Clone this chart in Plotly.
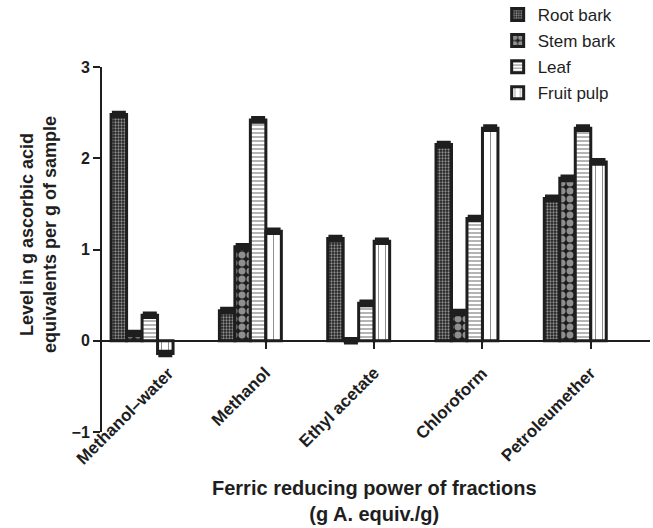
import plotly.graph_objects as go

# Fractions and measured ferric reducing power (g ascorbic acid equiv./g)
fractions = ["Methanol\u2013water", "Methanol", "Ethyl acetate", "Chloroform", "Petroleumether"]
root_bark = [2.48, 0.33, 1.12, 2.15, 1.56]
stem_bark = [0.08, 1.03, 0.00, 0.31, 1.78]
leaf = [0.28, 2.42, 0.41, 1.34, 2.33]
fruit_pulp = [-0.14, 1.20, 1.09, 2.33, 1.96]
sem = [0.02, 0.02, 0.02, 0.02, 0.02]

y_ticks = [-1, 0, 1, 2, 3]
y_tick_text = ["\u22121", "0", "1", "2", "3"]

FONT = "Liberation Sans, Arial, sans-serif"
INK = "#1e1e1e"

positions = list(range(len(fractions)))
BAR_W = 0.143  # width of one bar in category units

# the first label is pushed right so it clears the -1 tick label
label_nudge_px = {0: 12}

series = [
    ("Root bark", root_bark, dict(shape=".", size=3, solidity=0.45, fgcolor="white", bgcolor=INK)),
    ("Stem bark", stem_bark, dict(shape=".", size=8, solidity=0.6, fgcolor="white", bgcolor=INK)),
    ("Leaf", leaf, dict(shape="-", size=4, solidity=0.4, fgcolor="#444", bgcolor="white")),
    ("Fruit pulp", fruit_pulp, dict(shape="|", size=7, solidity=0.15, fgcolor=INK, bgcolor="white")),
]

fig = go.Figure()
for name, vals, pat in series:
    fig.add_trace(go.Bar(
        name=name,
        x=positions,
        y=vals,
        legendgroup=name,
        marker=dict(color="white", pattern=pat, line=dict(color=INK, width=3)),
        error_y=dict(type="data", array=sem, visible=True, color=INK, thickness=4, width=7),
    ))

# Rotated fraction names hanging below the zero line
for i, name in enumerate(fractions):
    fig.add_annotation(text=f"<b>{name}</b>", x=i, y=-0.22, xref="x", yref="y",
                       xanchor="right", yanchor="top", xshift=27 + label_nudge_px.get(i, 0),
                       textangle=-45, showarrow=False,
                       font=dict(family=FONT, size=17, color=INK))

fig.add_annotation(text="<b>Level in g ascorbic acid<br>equivalents per g of sample</b>",
                   xref="paper", yref="paper", x=-0.117, y=0.542, xanchor="center",
                   yanchor="middle", textangle=-90,
                   showarrow=False, font=dict(family=FONT, size=18, color=INK))
fig.add_annotation(text="<b>Ferric reducing power of fractions<br>(g A. equiv./g)</b>",
                   xref="paper", yref="paper", x=0.498, y=-0.118, xanchor="center",
                   yanchor="top", showarrow=False, font=dict(family=FONT, size=20, color=INK))

fig.update_layout(
    width=653, height=528,
    margin=dict(l=102, r=3, t=67, b=96, autoexpand=False),
    paper_bgcolor="white", plot_bgcolor="white",
    font=dict(family=FONT, color=INK),
    barmode="group", bargap=1 - 4 * BAR_W, bargroupgap=0,
    showlegend=True,
    legend=dict(x=0.722, y=1.192, xanchor="left", yanchor="top",
                font=dict(family=FONT, size=17, color=INK),
                tracegroupgap=1, bgcolor="rgba(0,0,0,0)"),
    # category axis sits on the zero line (a quarter of the way up the -1..3 range)
    xaxis=dict(anchor="free", position=0.25, range=[-0.37, 4.69],
               tickvals=[p + BAR_W for p in positions], showticklabels=False,
               showline=True, linecolor=INK, linewidth=2,
               ticks="outside", ticklen=7, tickwidth=2, tickcolor=INK,
               showgrid=False, zeroline=False),
    yaxis=dict(range=[-1, 3], tickvals=y_ticks, ticktext=[f"<b>{t}</b>" for t in y_tick_text],
               showgrid=False, zeroline=False, showline=True, linecolor=INK, linewidth=2,
               ticks="outside", ticklen=7, tickwidth=2, tickcolor=INK,
               tickfont=dict(family=FONT, size=16, color=INK)),
)

fig.write_html("out.html")
